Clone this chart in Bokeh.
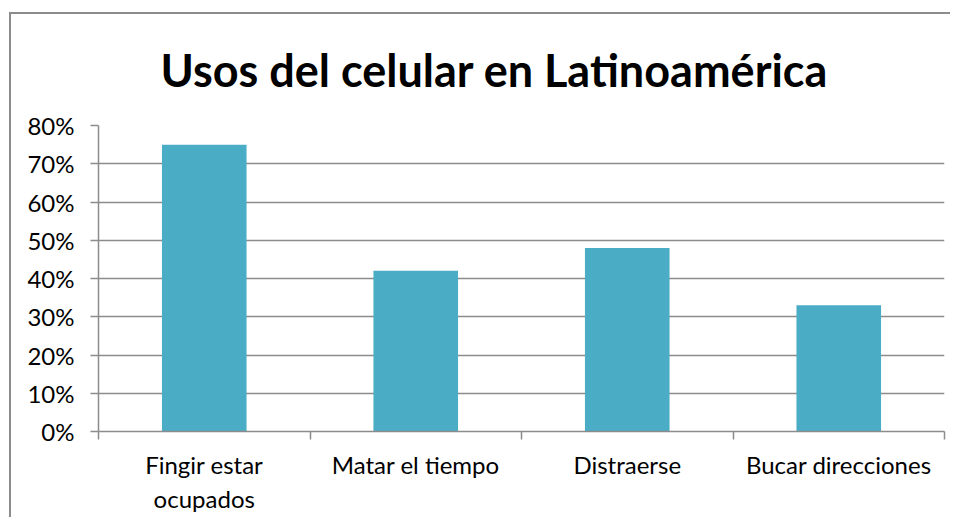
from bokeh.plotting import figure
from bokeh.models import FixedTicker, Range1d, Title, ColumnDataSource
from bokeh.embed import file_html
from bokeh.resources import INLINE

categories = ["Fingir estar\nocupados", "Matar el tiempo", "Distraerse", "Bucar direcciones"]
values = [0.75, 0.42, 0.48, 0.33]
y_ticks = [0.0, 0.1, 0.2, 0.3, 0.4, 0.5, 0.6, 0.7, 0.8]
y_labels = ["0%", "10%", "20%", "30%", "40%", "50%", "60%", "70%", "80%"]
title_text = "Usos del celular en Latinoamérica"

FONT = "Lato"
GRID = "#8C8C8C"
BAR = "#4BACC6"

n = len(categories)
centers = [i + 0.5 for i in range(n)]
src = ColumnDataSource(dict(x=centers, top=values, cat=categories))

p = figure(width=941, height=505, output_backend="svg", toolbar_location=None,
           x_range=Range1d(0, n), y_range=Range1d(0, 0.8),
           min_border_left=89, min_border_right=6, min_border_top=113, min_border_bottom=86)
p.margin = (12, 0, 0, 9)
p.styles = {"box-shadow": "inset 2px 2px 0 0 #8C8C8C"}
p.outline_line_color = None
p.background_fill_color = "white"
p.border_fill_color = None

p.vbar(x="x", top="top", width=0.4, bottom=0, source=src, fill_color=BAR, line_color=None)

p.title = Title(text=title_text, text_font=FONT, text_font_size="45px", text_font_style="bold",
                text_color="black", align="left", offset=62, standoff=54,
                vertical_align="top")

# y axis
p.yaxis.ticker = FixedTicker(ticks=y_ticks)
p.yaxis.major_label_overrides = {t: l for t, l in zip(y_ticks, y_labels)}
p.yaxis.major_label_text_font = FONT
p.yaxis.major_label_text_font_size = "24px"
p.yaxis.major_label_text_color = "black"
p.yaxis.major_tick_out = 8
p.yaxis.major_tick_in = 0
p.yaxis.minor_tick_line_color = None
p.yaxis.axis_line_color = GRID
p.yaxis.major_tick_line_color = GRID
p.yaxis.axis_line_width = 1.5
p.yaxis.major_tick_line_width = 1.5
p.yaxis.major_label_standoff = 16

# x axis
p.xaxis.ticker = FixedTicker(ticks=centers, minor_ticks=list(range(n + 1)))
p.xaxis.major_label_overrides = {c: l for c, l in zip(centers, categories)}
p.xaxis.major_label_text_font = FONT
p.xaxis.major_label_text_font_size = "24px"
p.xaxis.major_label_text_color = "black"
p.xaxis.major_tick_out = 0
p.xaxis.major_tick_in = 0
p.xaxis.minor_tick_out = 8
p.xaxis.minor_tick_in = 0
p.xaxis.minor_tick_line_color = GRID
p.xaxis.minor_tick_line_width = 1.5
p.xaxis.axis_line_color = GRID
p.xaxis.axis_line_width = 1.5
p.xaxis.major_label_standoff = 10

p.xgrid.grid_line_color = None
p.ygrid.grid_line_color = GRID
p.ygrid.grid_line_width = 1.5

open("out.html", "w").write(file_html(p, INLINE))
